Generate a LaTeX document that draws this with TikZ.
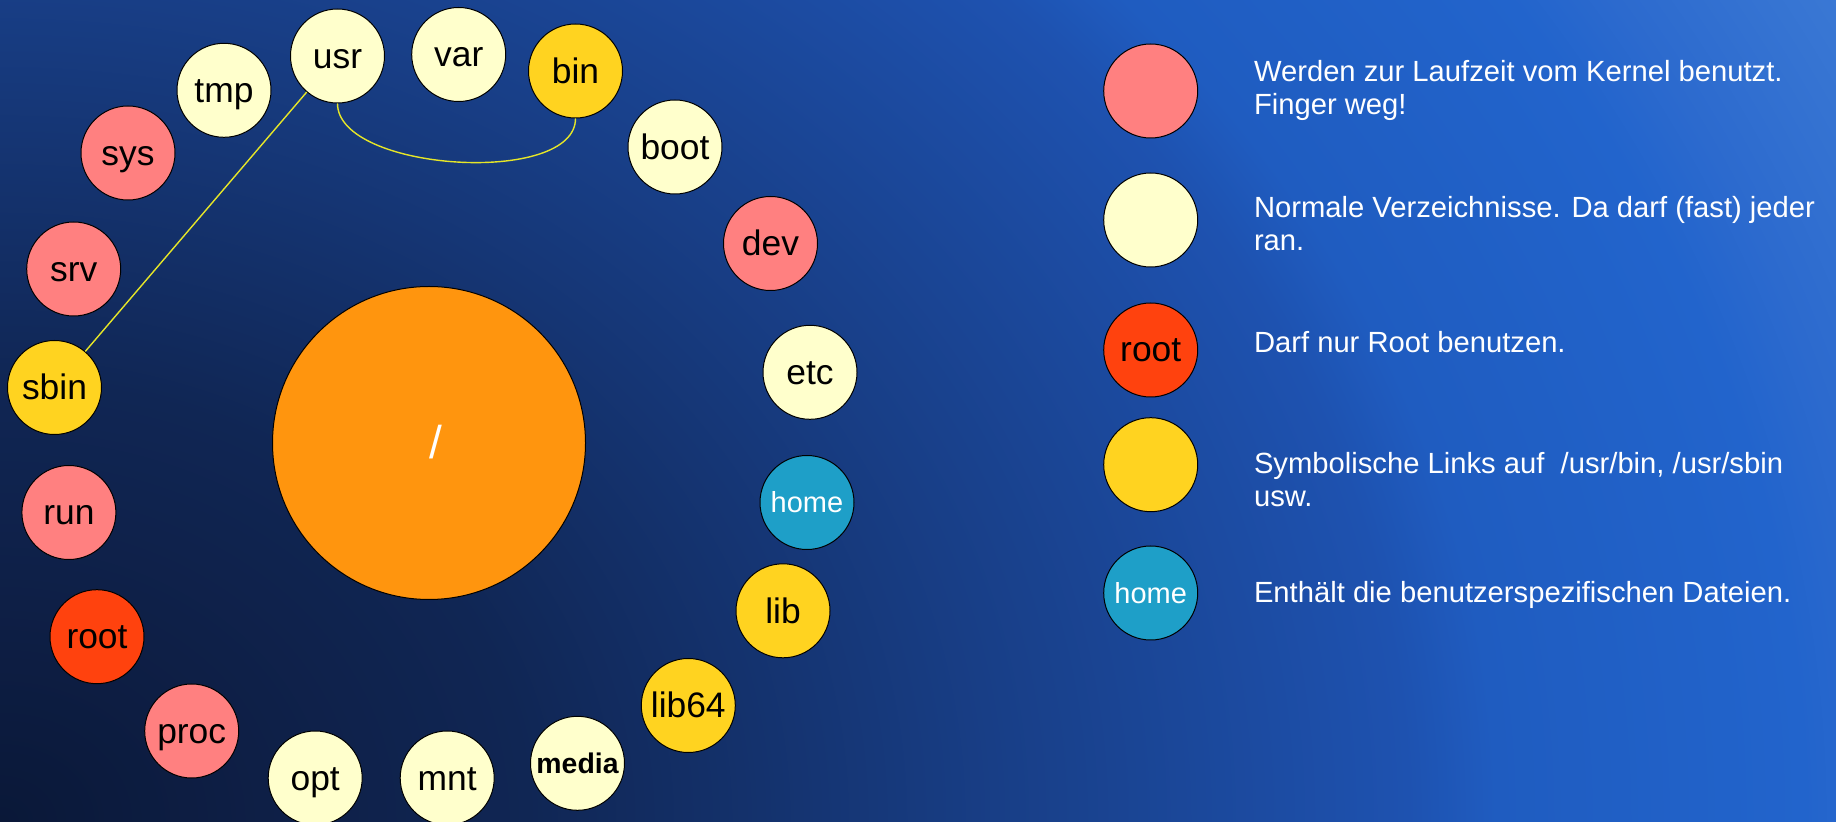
\documentclass[tikz,border=0pt]{standalone}
\usepackage{fontspec}
\setmainfont{Liberation Sans}
\definecolor{pinkc}{HTML}{FF8080}
\definecolor{cream}{HTML}{FFFFCC}
\definecolor{rootred}{HTML}{FF420E}
\definecolor{gold}{HTML}{FFD320}
\definecolor{homeblue}{HTML}{1E9FC8}
\definecolor{orangec}{HTML}{FF950E}
\definecolor{linky}{HTML}{E6E628}
\definecolor{bga}{HTML}{0A1838}
\definecolor{bgb}{HTML}{0E1F46}
\definecolor{bgc}{HTML}{102654}
\definecolor{bgd}{HTML}{183E86}
\definecolor{bge}{HTML}{1E52B0}
\definecolor{bgf}{HTML}{1F5CC0}
\definecolor{bgg}{HTML}{2264CC}
\definecolor{bgh}{HTML}{2C6ACE}
\definecolor{bgi}{HTML}{3A78D4}
\pgfdeclareradialshading{bgshade}{\pgfpointorigin}{color(0bp)=(bga); color(3bp)=(bgb); color(6bp)=(bgc); color(11.3bp)=(bgd); color(16bp)=(bge); color(17bp)=(bgf); color(20.5bp)=(bgg); color(21.5bp)=(bgh); color(23.7bp)=(bgi); color(40bp)=(bgi)}
\tikzset{
  dir/.style={circle, draw=black, line width=0.5pt, minimum size=47pt, inner sep=0pt,
    text height=12.3pt, text depth=0pt, font=\fontsize{17.7}{20}\selectfont},
  kern/.style={dir, fill=pinkc},
  norm/.style={dir, fill=cream},
  rootc/.style={dir, fill=rootred, text height=11.6pt},
  link/.style={dir, fill=gold},
  homec/.style={dir, fill=homeblue, text=white, font=\fontsize{14.5}{17}\selectfont, text height=10.2pt},
  linkline/.style={draw=linky, line width=0.7pt},
  legtext/.style={anchor=base west, inner sep=0pt, text=white, font=\fontsize{14.6}{17}\selectfont},
}
\begin{document}
\begin{tikzpicture}[x=0.5pt, y=-0.5pt]
\useasboundingbox (0,0) rectangle (1836,822);
\begin{scope}
  \clip (0,0) rectangle (1836,822);
  \shade[shading=bgshade] (-2200,-1011) rectangle (2200,2655);
\end{scope}

% root directory
\node[circle, draw=black, line width=0.5pt, fill=orangec, minimum size=156.5pt, inner sep=0pt,
  text=white, font=\fontsize{23}{26}\selectfont, text height=16pt, text depth=0pt]
  (slash) at (429,443) {\hspace*{7pt}/};

% directories around
\node[norm] (usr)   at (337.5,56) {usr};
\node[norm] (var)   at (458.7,54.5) {var};
\node[link] (bin)   at (575.5,71) {bin};
\node[norm] (boot)  at (675,147) {boot};
\node[kern] (dev)   at (770.5,243.5) {dev};
\node[norm] (etc)   at (810,372.3) {etc};
\node[homec] (home) at (807,502.5) {home};
\node[link] (lib)   at (783,610.8) {lib};
\node[link] (lib64) at (688.3,705.5) {lib64};
\node[norm, font=\fontsize{14.2}{16}\selectfont\bfseries, text height=10pt] (media) at (577.5,763.3) {media};
\node[norm] (mnt)   at (447.2,778) {mnt};
\node[norm] (opt)   at (315.2,778) {opt};
\node[kern] (proc)  at (191.7,731) {proc};
\node[rootc] (root) at (97,636.7) {root};
\node[kern] (run)   at (68.9,512.5) {run};
\node[link] (sbin)  at (54.5,387.5) {sbin};
\node[kern] (srv)   at (73.7,269) {srv};
\node[kern] (sys)   at (128,153) {sys};
\node[norm] (tmp)   at (224,90.3) {tmp};

% symbolic link connectors
\draw[linkline] (usr) -- (sbin);
\draw[linkline] (usr.south) .. controls +(0,68) and +(0,68) .. (bin.south);

% legend
\node[kern] (lk) at (1150.7,91) {};
\node[norm] (ln) at (1150.7,220) {};
\node[rootc] (lr) at (1150.7,350) {root};
\node[link] (ll) at (1150.7,464.7) {};
\node[homec] (lh) at (1150.7,593) {home};

\node[legtext] (t1a) at (1253.6,82) {Werden zur Laufzeit vom Kernel benutzt.};
\node[legtext] (t1b) at (1253.6,114.5) {Finger weg!};
\node[legtext] (t2a) at (1253.6,217.8) {Normale Verzeichnisse. Da darf (fast) jeder};
\node[legtext] (t2b) at (1253.6,250.4) {ran.};
\node[legtext] (t3) at (1253.6,352.4) {Darf nur Root benutzen.};
\node[legtext] (t4a) at (1253.6,474) {Symbolische Links auf\ \ /usr/bin, /usr/sbin};
\node[legtext] (t4b) at (1253.6,506.7) {usw.};
\node[legtext] (t5) at (1253.6,602.6) {Enthält die benutzerspezifischen Dateien.};
\end{tikzpicture}
\end{document}
